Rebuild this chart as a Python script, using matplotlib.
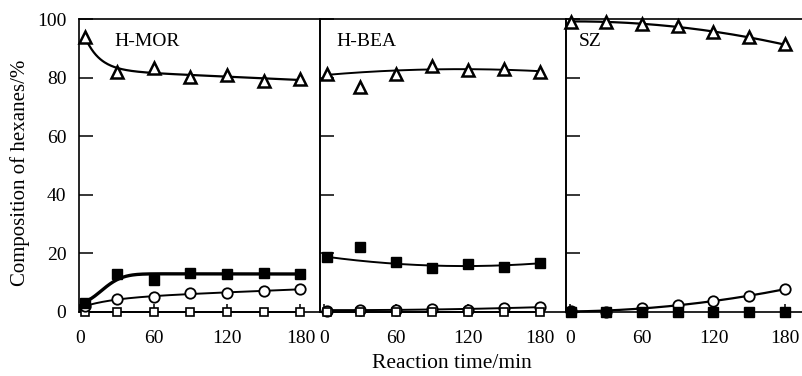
import numpy as np
import matplotlib
matplotlib.use("Agg")
import matplotlib.pyplot as plt

plt.rcParams["font.family"] = ["Liberation Serif", "DejaVu Serif"]

# Reaction times (min)
t_mor = [4, 30, 60, 90, 120, 150, 180]
t_bea = [2, 30, 60, 90, 120, 150, 180]
t_sz = [1, 30, 60, 90, 120, 150, 180]

# H-MOR composition (%)
mor_tri = [93.9, 82.0, 83.4, 80.3, 80.9, 78.9, 79.4]
mor_fsq = [3.2, 12.9, 10.9, 13.4, 12.9, 13.4, 12.9]
mor_circ = [2.0, 4.4, 5.2, 6.4, 6.4, 7.3, 7.8]
mor_osq = [0, 0, 0, 0, 0, 0, 0]

# H-BEA composition (%)
bea_tri = [81.2, 76.9, 81.2, 84.0, 82.6, 82.9, 82.0]
bea_fsq = [18.7, 22.1, 17.2, 14.9, 16.3, 15.5, 16.8]
bea_circ = [0.5, 0.8, 0.8, 1.0, 0.8, 1.2, 1.8]
bea_osq = [0, 0, 0, 0, 0, 0, 0]

# SZ composition (%)
sz_tri = [99.1, 99.1, 98.3, 97.6, 95.4, 93.7, 91.3]
sz_circ = [0.5, 0.0, 1.2, 2.4, 3.9, 5.6, 7.7]
sz_fsq = [0, 0, 0, 0, 0, 0, 0]

W, H = 803, 376
fig = plt.figure(figsize=(W / 100, H / 100), dpi=100)


def px_axes(x0, x1, y0=19, y1=312):
    return fig.add_axes([x0 / W, (H - y1) / H, (x1 - x0) / W, (y1 - y0) / H])


def basis_fit(t, y, g, mask=None):
    """Least-squares fit of y = a + b*t + c*g(t); returns a smooth trend curve."""
    t = np.asarray(t, float)
    y = np.asarray(y, float)
    m = np.ones_like(t, bool) if mask is None else np.asarray(mask, bool)
    A = np.column_stack([np.ones_like(t), t, g(t)])
    coef, *_ = np.linalg.lstsq(A[m], y[m], rcond=None)
    tt = np.linspace(t.min(), t.max(), 200)
    return tt, coef[0] + coef[1] * tt + coef[2] * g(tt)


def poly_fit(t, y, deg, mask=None):
    t = np.asarray(t, float)
    y = np.asarray(y, float)
    m = np.ones_like(t, bool) if mask is None else np.asarray(mask, bool)
    c = np.polyfit(t[m], y[m], deg)
    tt = np.linspace(t.min(), t.max(), 200)
    return tt, np.polyval(c, tt)


tri = dict(marker="^", ms=8, mfc="white", mec="black", mew=1.8, ls="none", zorder=4)
fsq = dict(marker="s", ms=7.5, mfc="black", mec="black", ls="none", zorder=4)
osq = dict(marker="s", ms=6.0, mfc="white", mec="black", mew=1.2, ls="none", zorder=4)
circ = dict(marker="o", ms=7.5, mfc="white", mec="black", mew=1.3, ls="none", zorder=4)

ax1 = px_axes(79, 320)
ax2 = px_axes(320, 566)
ax3 = px_axes(566, 830)

# H-MOR
ax1.plot(*basis_fit(t_mor, mor_tri, lambda t: np.exp(-t / 12)), color="black", lw=1.6)
ax1.plot(*basis_fit(t_mor, mor_fsq, lambda t: np.exp(-(t / 24) ** 2)), color="black", lw=2.4)
ax1.plot(*basis_fit(t_mor, mor_circ, lambda t: np.exp(-t / 25)), color="black", lw=1.4)
ax1.plot(t_mor, mor_osq, color="black", lw=1.4)
ax1.plot(t_mor, mor_tri, **tri)
ax1.plot(t_mor, mor_osq, **osq)
ax1.plot(t_mor, mor_circ, **circ)
ax1.plot(t_mor, mor_fsq, **fsq)
ax1.set_xlim(-1, 196)

# H-BEA (the 30 min points are left out of the trend lines)
keep = [True, False, True, True, True, True, True]
ax2.plot(*poly_fit(t_bea, bea_tri, 2, keep), color="black", lw=1.4)
ax2.plot(*poly_fit(t_bea, bea_fsq, 2, keep), color="black", lw=1.4)
ax2.plot(*poly_fit(t_bea, bea_circ, 2), color="black", lw=1.4)
ax2.plot(t_bea, bea_osq, color="black", lw=1.4)
ax2.plot(t_bea, bea_tri, **tri)
ax2.plot(t_bea, bea_circ, **circ)
ax2.plot(t_bea, bea_osq, **osq)
ax2.plot(t_bea, bea_fsq, **fsq)
ax2.set_xlim(-3.5, 202)

# SZ
ax3.plot(*poly_fit(t_sz, sz_tri, 2), color="black", lw=1.6)
ax3.plot(*poly_fit(t_sz, sz_circ, 2), color="black", lw=1.6)
ax3.plot(t_sz, sz_tri, **tri)
ax3.plot(t_sz, sz_circ, **circ)
ax3.plot(t_sz, sz_fsq, **fsq)
ax3.set_xlim(-3.5, (830 - 570) / 1.195)

labels = ["H-MOR", "H-BEA", "SZ"]
label_x = [114, 336, 579]
for ax, lab, lx in zip([ax1, ax2, ax3], labels, label_x):
    ax.set_ylim(0, 100)
    ax.set_xticks([0, 60, 120, 180])
    ax.set_yticks([0, 20, 40, 60, 80, 100])
    ax.tick_params(direction="in", length=10, width=1.1, labelsize=14)
    ax.tick_params(axis="x", length=6, pad=13)
    ax.tick_params(axis="y", pad=9)
    for s in ax.spines.values():
        s.set_linewidth(1.2)
    ax.set_facecolor("none")
    for d in ax.get_lines():
        d.set_clip_on(False)
    fig.text(lx / W, (H - 46) / H, lab, fontsize=14, ha="left", va="baseline")

ax2.tick_params(axis="y", labelleft=False)
ax3.tick_params(axis="y", labelleft=False)
ax3.spines["right"].set_visible(False)

fig.text(20 / W, (H - 173) / H, "Composition of hexanes/%", fontsize=15,
         rotation=90, ha="center", va="center")
fig.text(452 / W, (H - 368) / H, "Reaction time/min", fontsize=15.5,
         ha="center", va="baseline")

fig.savefig("out.png", dpi=100)
